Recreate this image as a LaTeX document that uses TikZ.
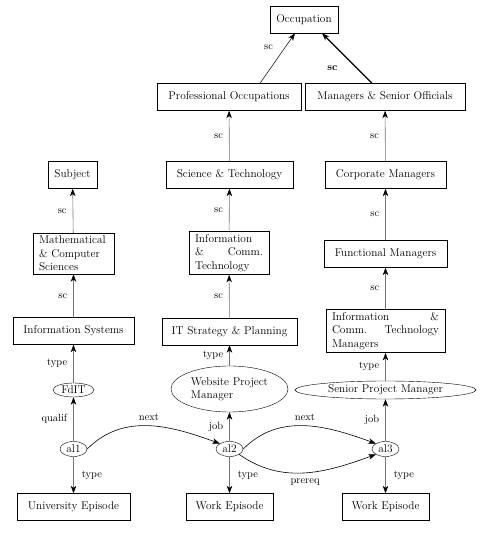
\documentclass[tikz,border=0pt]{standalone}
\usetikzlibrary{arrows.meta,shapes.geometric,calc}
\newcommand\jline[1]{\leavevmode\hbox to \hsize{#1}}
\begin{document}
\begin{tikzpicture}[x=1pt,y=1pt,
  every node/.style={font=\fontsize{11.3}{13.5}\selectfont},
  box/.style={draw,rectangle,minimum height=27pt,inner xsep=6pt,inner ysep=3pt},
  mbox/.style={box,align=left},
  ell/.style={draw,ellipse,inner sep=0pt},
  up/.style={draw=black!55,line width=0.6pt,-{Stealth[length=7.5pt,width=5.5pt,inset=2.2pt,color=black]}},
  cur/.style={draw=black,line width=0.6pt,-{Stealth[length=7.5pt,width=5.5pt,inset=2.2pt,color=black]}},
  lab/.style={font=\fontsize{10.5}{12}\selectfont,inner sep=2pt},
  ll/.style={lab,left,xshift=-4pt},
  rl/.style={lab,right,xshift=6pt}
]
\useasboundingbox (0,0) rectangle (492,534);
% top
\node[box,minimum width=68pt] (occ) at (304,514.5) {Occupation};
\node[box,minimum width=144pt] (prof) at (229,437) {Professional Occupations};
\node[box,minimum width=160pt] (mgr) at (385,437) {Managers \& Senior Officials};
\node[box,minimum width=127pt] (sci) at (229.5,359) {Science \& Technology};
\node[box,minimum width=121pt] (corp) at (385.5,359) {Corporate Managers};
\node[box,minimum width=49pt] (subj) at (72.5,359) {Subject};
\node[mbox,text width=69pt] (math) at (73.5,280.5) {Mathematical\\\& Computer\\Sciences};
\node[box,minimum width=121pt] (infsys) at (73.5,203) {Information Systems};
\node[mbox,text width=68pt] (ict) at (229,281) {Information\\\jline{\& \hfill Comm.}\\Technology};
\node[box,minimum width=135pt] (itsp) at (229.5,202.5) {IT Strategy \& Planning};
\node[box,minimum width=123pt] (func) at (385.5,280) {Functional Managers};
\node[mbox,text width=107pt] (ictm) at (385.5,203) {\jline{Information \hfill \&}\\\jline{Comm. \hfill Technology}\\Managers};
% ellipses
\node[ell,minimum width=117pt,minimum height=46pt,align=left] (wpm) at (229.5,145) {Website Project\\Manager};
\node[ell,minimum width=181pt,minimum height=18pt] (spm) at (385.5,144) {Senior Project Manager};
\node[ell,minimum width=41pt,minimum height=14pt] (fdit) at (73.5,144) {FdIT};
\node[ell,minimum width=27pt,minimum height=15pt] (al1) at (73.5,85) {al1};
\node[ell,minimum width=27pt,minimum height=15pt] (al2) at (229.5,85) {al2};
\node[ell,minimum width=27pt,minimum height=15pt] (al3) at (385.5,85) {al3};
% bottom
\node[box,minimum width=113pt] (uni) at (73.5,27) {University Episode};
\node[box,minimum width=87pt] (we1) at (229.5,27) {Work Episode};
\node[box,minimum width=87pt] (we2) at (385.5,27) {Work Episode};
% edges to occupation
\draw[cur,line width=0.5pt] ([xshift=31pt]prof.north) -- node[lab,pos=0.72,anchor=east,xshift=-10pt] {sc} ([xshift=-9pt]occ.south);
\draw[cur,line width=1.2pt] ([xshift=-13pt]mgr.north) -- node[lab,pos=0.3,anchor=east,xshift=-17pt] {\textbf{sc}} ([xshift=18pt]occ.south);
% sc edges
\draw[up] (sci) -- node[ll] {sc} (prof);
\draw[up] (corp) -- node[ll] {sc} (mgr);
\draw[up] (ict) -- node[ll] {sc} (sci);
\draw[up] (func) -- node[ll] {sc} (corp);
\draw[up] (itsp) -- node[ll] {sc} (ict);
\draw[up] (ictm) -- node[ll] {sc} (func);
\draw[up] (math) -- node[ll] {sc} (subj);
\draw[up] (infsys) -- node[ll] {sc} (math);
% type edges
\draw[up] (fdit) -- node[ll] {type} (infsys);
\draw[up] (wpm) -- node[ll] {type} (itsp);
\draw[up] (spm) -- node[ll] {type} (ictm);
% qualif / job
\draw[up] (al1) -- node[ll] {qualif} (fdit);
\draw[up] (al2) -- node[ll] {job} (wpm);
\draw[up] (al3) -- node[ll] {job} (spm);
% type down
\draw[up] (al1) -- node[rl] {type} (uni);
\draw[up] (al2) -- node[rl] {type} (we1);
\draw[up] (al3) -- node[rl] {type} (we2);
% next / prereq
\draw[cur] (al1.east) to[out=45,in=160] node[lab,above,pos=0.5,yshift=3pt] {next} (al2.north west);
\draw[cur] (al2.east) to[out=45,in=160] node[lab,above,pos=0.5,yshift=3pt] {next} (al3.north west);
\draw[cur] (al2.south east) to[out=-35,in=200] node[lab,below,pos=0.5,yshift=-4pt] {prereq} (al3.south west);
\end{tikzpicture}
\end{document}
